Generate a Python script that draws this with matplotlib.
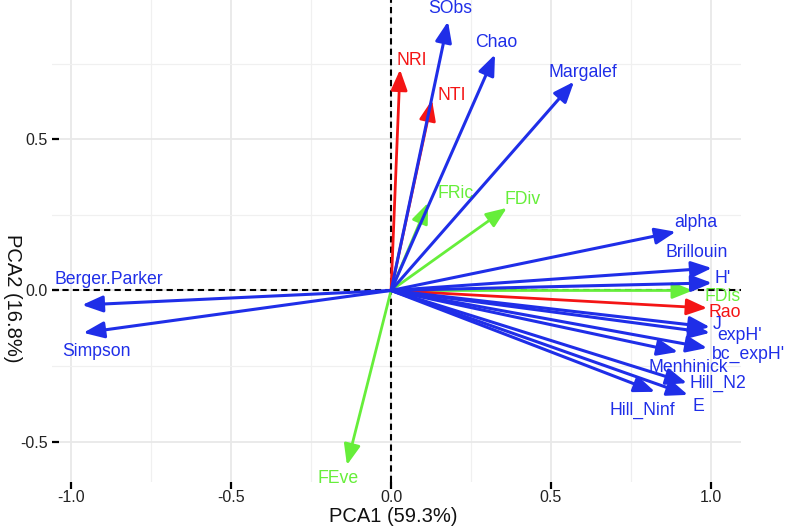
import numpy as np
import matplotlib
matplotlib.use('Agg')
import matplotlib.pyplot as plt

plt.rcParams['font.family'] = ['Liberation Sans', 'DejaVu Sans']

# ── PCA loadings (arrow tips) ────────────────────────────────────────────────
blue_names = ['SObs', 'Chao', 'Margalef', 'alpha', 'Brillouin', "H'", 'J',
              "expH'", "bc_expH'", 'Menhinick', 'Hill_N2', 'E', 'Hill_Ninf',
              'Berger.Parker', 'Simpson']
blue_pc1 = [0.178, 0.325, 0.572, 0.890, 1.003, 1.003, 0.997,
            0.997, 0.988, 0.897, 0.925, 0.928, 0.825, -0.966, -0.962]
blue_pc2 = [0.889, 0.780, 0.690, 0.194, 0.074, 0.025, -0.121,
            -0.140, -0.190, -0.203, -0.306, -0.345, -0.335, -0.048, -0.140]

red_names = ['NRI', 'NTI', 'Rao']
red_pc1 = [0.028, 0.128, 0.988]
red_pc2 = [0.730, 0.630, -0.058]

green_names = ['FRic', 'FDiv', 'FDis', 'FEve']
green_pc1 = [0.116, 0.362, 0.944, -0.138]
green_pc2 = [0.290, 0.273, 0.000, -0.577]

# label placement (data units)
LABEL_POS = {
    'SObs': (0.184, 0.933), 'Chao': (0.328, 0.818), 'Margalef': (0.599, 0.722),
    'alpha': (0.952, 0.226), 'Brillouin': (0.955, 0.124), "H'": (1.036, 0.038),
    'J': (1.020, -0.114), "expH'": (1.089, -0.150), "bc_expH'": (1.117, -0.210),
    'Menhinick': (0.930, -0.253), 'Hill_N2': (1.023, -0.306), 'E': (0.961, -0.382),
    'Hill_Ninf': (0.786, -0.395), 'Berger.Parker': (-0.883, 0.035),
    'Simpson': (-0.920, -0.203), 'NRI': (0.066, 0.759), 'NTI': (0.190, 0.646),
    'Rao': (1.042, -0.074), 'FRic': (0.203, 0.322), 'FDiv': (0.412, 0.302),
    'FDis': (1.036, -0.021), 'FEve': (-0.165, -0.620),
}

BLUE = '#1f2ee8'
RED = '#f41515'
GREEN = '#66ee3a'
FS_LAB = 12.7

fig = plt.figure(figsize=(7.97, 5.29), dpi=100)
ax = fig.add_axes([52/797, (529-482)/529, 689/797, 482/529])

ax.set_xlim(-1.06, 1.094)
ax.set_ylim(-0.633, 0.960)

# grid
ax.set_xticks([-1.0, -0.5, 0.0, 0.5, 1.0])
ax.set_yticks([-0.5, 0.0, 0.5])
ax.set_xticks([-0.75, -0.25, 0.25, 0.75], minor=True)
ax.set_yticks([-0.25, 0.25, 0.75], minor=True)
ax.grid(which='major', color='#e8e8e8', lw=1.3, zorder=0)
ax.grid(which='minor', color='#f0f0f0', lw=0.9, zorder=0)
ax.set_axisbelow(True)
for sp in ax.spines.values():
    sp.set_visible(False)

ax.set_xticklabels(['-1.0', '-0.5', '0.0', '0.5', '1.0'])
ax.set_yticklabels(['-0.5', '0.0', '0.5'])
ax.tick_params(axis='x', which='major', direction='out', length=5, width=1.6,
               color='black', labelsize=11.5, labelcolor='#222222', pad=1)
ax.tick_params(axis='y', which='major', direction='in', length=5, width=1.6,
               color='black', labelsize=11.5, labelcolor='#222222', pad=3)
ax.tick_params(which='minor', length=0)

ax.axhline(0, color='black', lw=1.5, ls=(0, (3, 2)), zorder=1)
ax.axvline(0, color='black', lw=1.5, ls=(0, (3, 2)), zorder=1)


def draw_set(names, xs, ys, col, lw, z):
    for n, x, y in zip(names, xs, ys):
        ax.annotate('', xy=(x, y), xytext=(0, 0),
                    arrowprops=dict(arrowstyle='-|>,head_length=1.25,head_width=0.5',
                                    mutation_scale=10, color=col, lw=lw,
                                    shrinkA=0, shrinkB=0),
                    zorder=z)
        lx, ly = LABEL_POS[n]
        ax.text(lx, ly, n, color=col, fontsize=FS_LAB, ha='center', va='center',
                clip_on=False, zorder=z + 1)


draw_set(green_names, green_pc1, green_pc2, GREEN, 2.0, 3)
draw_set(red_names, red_pc1, red_pc2, RED, 2.0, 4)
draw_set(blue_names, blue_pc1, blue_pc2, BLUE, 2.2, 5)

fig.text(393/797, 1 - 517/529, 'PCA1 (59.3%)', fontsize=14.5, color='#111111',
         ha='center', va='center')
fig.text(12/797, 1 - 298/529, 'PCA2 (16.8%)', fontsize=14.5, color='#111111',
         ha='center', va='center', rotation=270)

fig.savefig('out.png', dpi=100)
